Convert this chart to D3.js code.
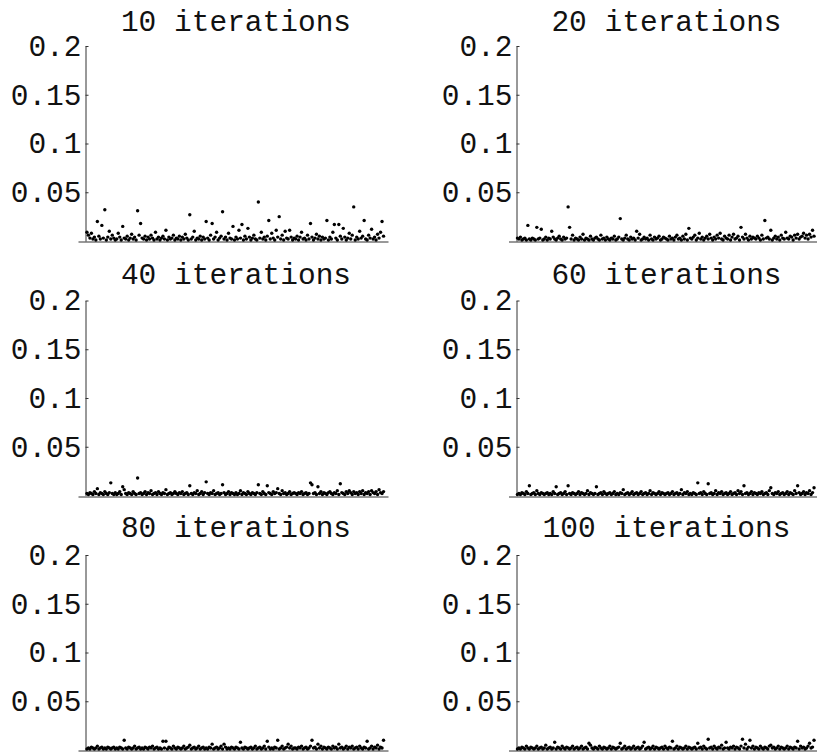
<!DOCTYPE html>
<html>
<head>
<meta charset="utf-8">
<script src="https://cdn.jsdelivr.net/npm/d3@7"></script>
<style>
  body { margin: 0; background: #fff; }
  text { font-family: "Liberation Mono", "Courier New", monospace; }
</style>
</head>
<body>
<div id="chart"></div>
<script>
// panel titles
const titles = ["10 iterations", "20 iterations", "40 iterations", "60 iterations", "80 iterations", "100 iterations"];

// y ticks
const yTicks = [0.05, 0.1, 0.15, 0.2];
const yTickLabels = ["0.05", "0.1", "0.15", "0.2"];

// error per sample point, in thousandths
const it10 = [
  9,6,3,8,2,4,1,20,5,2,16,3,32,1,4,10,2,6,3,1,
  2,8,4,1,15,3,2,5,1,3,7,2,4,1,31,6,18,3,2,5,
  1,4,2,6,3,1,9,2,4,1,3,5,2,11,1,4,2,3,6,1,
  3,2,5,1,4,2,7,3,1,27,2,4,10,1,3,2,5,1,4,2,
  20,3,1,6,18,2,4,9,1,3,5,30,2,4,1,8,3,2,15,1,
  4,2,11,3,17,1,5,2,13,4,1,3,6,2,1,40,3,9,2,4,
  1,5,21,2,8,3,1,11,4,25,2,6,1,10,3,2,11,4,1,3,
  2,5,1,4,9,2,3,1,6,2,18,4,1,3,7,2,5,1,4,2,
  3,21,1,4,2,9,17,3,1,17,5,2,13,4,1,3,8,2,6,35,
  1,4,2,10,3,5,21,2,1,6,3,12,2,4,1,7,3,9,20,5
];
const it20 = [
  3,2,4,1,2,3,1,16,2,1,3,2,1,14,2,3,12,1,2,4,
  1,3,2,10,4,2,1,3,5,2,1,4,2,3,35,14,2,6,1,3,
  2,1,4,2,7,1,3,2,1,5,2,1,3,4,2,1,6,2,3,1,
  4,2,1,3,2,5,1,2,4,23,2,1,3,6,2,1,4,2,3,1,
  10,3,7,1,2,4,2,3,1,6,2,1,4,2,3,5,1,2,4,3,
  2,1,5,2,3,1,4,6,2,3,1,5,2,7,1,13,3,2,4,6,
  1,3,8,2,4,1,3,5,2,7,3,1,4,2,6,3,8,2,1,5,
  3,2,6,1,4,7,2,3,5,1,14,4,2,7,3,1,5,2,4,3,
  2,5,3,1,6,2,21,3,4,2,11,1,3,5,2,4,1,6,3,2,
  9,3,2,5,4,1,6,3,7,2,4,5,8,3,6,2,7,4,11,5
];
const it40 = [
  2,1,3,2,1,4,2,7,1,3,2,1,4,2,1,3,13,2,1,3,
  1,2,4,1,9,6,2,1,3,2,1,4,2,1,18,2,3,1,2,4,
  1,3,2,5,1,2,3,1,4,2,1,3,2,6,1,2,3,1,2,4,
  2,1,3,2,4,1,2,3,1,10,2,1,3,2,5,1,2,4,1,3,
  14,2,1,3,2,5,1,2,3,1,2,11,3,1,2,4,1,3,2,1,
  3,1,2,5,1,3,2,1,4,2,1,3,2,1,3,11,2,1,4,2,
  1,10,3,2,1,4,2,3,7,2,1,5,2,3,1,2,4,1,2,3,
  2,1,3,2,4,1,2,3,1,2,13,11,2,3,1,9,2,4,1,3,
  2,1,3,4,2,1,3,2,5,1,12,3,2,1,4,2,5,3,1,4,
  2,3,1,4,2,5,1,3,2,4,1,5,3,2,4,1,6,3,2,4
];
const it60 = [
  1,2,1,3,2,1,4,2,10,1,2,3,1,5,2,1,3,2,1,2,
  3,1,2,1,4,2,9,1,2,3,1,2,4,1,10,2,1,3,2,1,
  2,4,1,3,2,1,2,5,1,3,2,1,2,9,1,2,3,1,4,2,
  1,2,3,1,2,4,1,2,1,3,2,6,1,2,3,1,2,4,1,2,
  3,1,2,4,1,2,3,1,2,5,1,3,2,1,2,4,1,3,2,1,
  2,3,1,2,4,1,2,3,1,2,6,1,3,2,4,1,2,1,3,2,
  1,13,2,3,1,4,2,1,12,2,3,1,2,5,1,3,2,4,1,2,
  3,1,2,4,1,2,3,1,5,2,4,1,10,2,3,1,2,4,1,3,
  2,1,3,2,4,1,2,3,1,5,8,2,1,3,2,4,1,2,3,1,
  2,4,1,3,2,1,5,2,10,3,1,2,4,1,3,2,5,1,3,8
];
const it80 = [
  1,2,1,3,2,1,2,4,1,2,3,1,2,1,3,2,1,2,3,1,
  2,1,3,2,1,10,2,1,3,2,1,2,4,1,2,3,1,2,1,3,
  2,1,3,2,4,1,2,3,1,2,1,9,2,9,1,3,2,1,4,2,
  1,3,2,1,2,4,1,2,3,5,1,2,3,1,2,4,1,2,3,1,
  2,1,3,2,6,1,2,3,1,2,4,1,6,3,1,2,1,3,2,1,
  3,2,1,8,2,1,3,2,1,2,3,1,2,4,1,2,3,1,2,4,
  1,9,3,1,2,1,3,2,10,1,2,4,1,2,3,6,2,4,1,2,
  2,1,3,2,4,1,2,3,1,2,4,10,2,3,1,6,2,4,1,3,
  2,1,3,2,1,4,2,3,1,6,2,3,1,2,4,1,3,2,4,1,
  2,3,1,4,2,1,3,2,9,1,2,4,1,3,2,5,1,3,2,10
];
const it100 = [
  1,2,1,3,2,1,4,2,1,3,2,1,2,4,1,2,3,1,2,5,
  1,2,3,1,2,8,1,3,2,1,4,2,1,3,2,1,2,4,1,2,
  3,1,2,4,1,2,3,1,7,5,2,1,3,2,1,4,2,1,3,2,
  1,2,4,1,3,2,1,2,3,7,1,2,4,1,2,3,1,2,4,1,
  2,3,1,2,4,8,1,2,3,1,2,4,1,3,2,1,2,3,1,4,
  2,1,3,2,9,1,2,4,1,3,2,1,2,4,1,3,2,1,2,3,
  1,7,2,3,1,4,2,1,11,2,3,1,4,2,1,3,2,5,1,2,
  8,2,1,3,2,4,1,3,2,1,4,11,2,6,1,3,10,2,4,1,
  3,2,1,4,2,1,3,2,1,4,5,2,3,1,2,4,1,3,2,1,
  2,4,1,3,2,1,3,2,9,1,4,2,3,1,2,4,7,2,3,10
];

const series = [it10, it20, it40, it60, it80, it100];

const W = 817, H = 753;
const svg = d3.select("#chart").append("svg")
  .attr("width", W)
  .attr("height", H)
  .style("background", "#fff");

const colLeft = [78, 508.5];
const plotW = 310;
const plotH = 195;

series.forEach(function(vals, k) {
  const col = k % 2, row = Math.floor(k / 2);
  const left = colLeft[col];
  const bottom = 241 + 254.5 * row;

  let x = d3.scaleLinear().domain([-5, 203]).range([left, left + plotW]);
  let y = d3.scaleLinear().domain([0, 0.2]).range([bottom, bottom - plotH]);

  const g = svg.append("g");

  // title
  g.append("text")
    .attr("x", left + 158)
    .attr("y", 31 + 253 * row)
    .attr("text-anchor", "middle")
    .style("font-size", "29.5px")
    .attr("fill", "#111")
    .text(titles[k]);

  // horizontal axis
  g.append("g")
    .attr("transform", "translate(0," + (Math.round(bottom) + 0.5) + ")")
    .call(d3.axisBottom(x).tickValues([]).tickSizeOuter(0))
    .call(a => a.select(".domain").attr("stroke", "#333"));

  // vertical axis
  const ya = g.append("g")
    .attr("transform", "translate(" + (Math.round(x(0)) + 0.5) + ",0)")
    .call(d3.axisLeft(y)
      .tickValues(yTicks)
      .tickFormat((d, i) => yTickLabels[i])
      .tickSizeInner(-3)
      .tickSizeOuter(0)
      .tickPadding(4));
  ya.select(".domain").attr("stroke", "#333");
  ya.selectAll(".tick line").attr("stroke", "#333");
  ya.selectAll(".tick text")
    .attr("fill", "#111")
    .style("font-family", "'Liberation Mono', 'Courier New', monospace")
    .style("font-size", "29.5px");

  // points
  g.selectAll("circle")
    .data(vals)
    .enter()
    .append("circle")
      .attr("cx", (d, i) => x(i + 1))
      .attr("cy", d => y(d / 1000))
      .attr("r", 1.7)
      .attr("fill", "#000");
});
</script>
</body>
</html>
